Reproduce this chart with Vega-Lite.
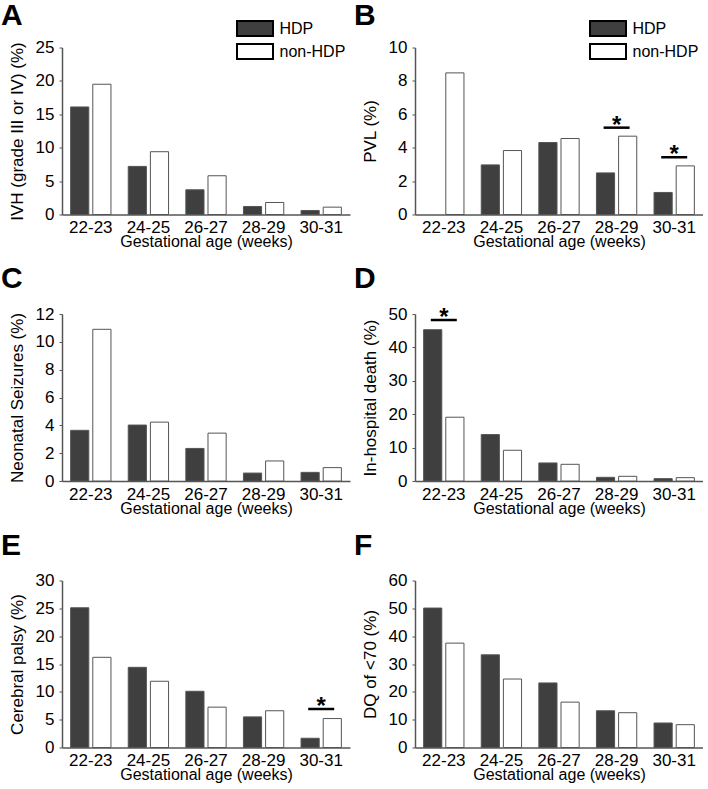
{
  "$schema": "https://vega.github.io/schema/vega-lite/v6.json",
  "padding": {"left": 1, "top": 0.5, "right": 0, "bottom": 0},
  "background": "#ffffff",
  "datasets": {
    "bars": [
      {"panel": "A", "ga": "22-23", "group": "HDP", "value": 16.1},
      {"panel": "A", "ga": "22-23", "group": "non-HDP", "value": 19.5},
      {"panel": "A", "ga": "24-25", "group": "HDP", "value": 7.2},
      {"panel": "A", "ga": "24-25", "group": "non-HDP", "value": 9.4},
      {"panel": "A", "ga": "26-27", "group": "HDP", "value": 3.7},
      {"panel": "A", "ga": "26-27", "group": "non-HDP", "value": 5.8},
      {"panel": "A", "ga": "28-29", "group": "HDP", "value": 1.2},
      {"panel": "A", "ga": "28-29", "group": "non-HDP", "value": 1.8},
      {"panel": "A", "ga": "30-31", "group": "HDP", "value": 0.6},
      {"panel": "A", "ga": "30-31", "group": "non-HDP", "value": 1.1},
      {"panel": "B", "ga": "22-23", "group": "non-HDP", "value": 8.48},
      {"panel": "B", "ga": "24-25", "group": "HDP", "value": 2.97},
      {"panel": "B", "ga": "24-25", "group": "non-HDP", "value": 3.83},
      {"panel": "B", "ga": "26-27", "group": "HDP", "value": 4.31},
      {"panel": "B", "ga": "26-27", "group": "non-HDP", "value": 4.55},
      {"panel": "B", "ga": "28-29", "group": "HDP", "value": 2.49},
      {"panel": "B", "ga": "28-29", "group": "non-HDP", "value": 4.69},
      {"panel": "B", "ga": "30-31", "group": "HDP", "value": 1.32},
      {"panel": "B", "ga": "30-31", "group": "non-HDP", "value": 2.91},
      {"panel": "C", "ga": "22-23", "group": "HDP", "value": 3.64},
      {"panel": "C", "ga": "22-23", "group": "non-HDP", "value": 10.9},
      {"panel": "C", "ga": "24-25", "group": "HDP", "value": 4.02},
      {"panel": "C", "ga": "24-25", "group": "non-HDP", "value": 4.23},
      {"panel": "C", "ga": "26-27", "group": "HDP", "value": 2.34},
      {"panel": "C", "ga": "26-27", "group": "non-HDP", "value": 3.44},
      {"panel": "C", "ga": "28-29", "group": "HDP", "value": 0.57},
      {"panel": "C", "ga": "28-29", "group": "non-HDP", "value": 1.44},
      {"panel": "C", "ga": "30-31", "group": "HDP", "value": 0.62},
      {"panel": "C", "ga": "30-31", "group": "non-HDP", "value": 0.96},
      {"panel": "D", "ga": "22-23", "group": "HDP", "value": 45.3},
      {"panel": "D", "ga": "22-23", "group": "non-HDP", "value": 19.1},
      {"panel": "D", "ga": "24-25", "group": "HDP", "value": 13.9},
      {"panel": "D", "ga": "24-25", "group": "non-HDP", "value": 9.2},
      {"panel": "D", "ga": "26-27", "group": "HDP", "value": 5.4},
      {"panel": "D", "ga": "26-27", "group": "non-HDP", "value": 5.0},
      {"panel": "D", "ga": "28-29", "group": "HDP", "value": 1.1},
      {"panel": "D", "ga": "28-29", "group": "non-HDP", "value": 1.4},
      {"panel": "D", "ga": "30-31", "group": "HDP", "value": 0.7},
      {"panel": "D", "ga": "30-31", "group": "non-HDP", "value": 1.0},
      {"panel": "E", "ga": "22-23", "group": "HDP", "value": 25.1},
      {"panel": "E", "ga": "22-23", "group": "non-HDP", "value": 16.2},
      {"panel": "E", "ga": "24-25", "group": "HDP", "value": 14.4},
      {"panel": "E", "ga": "24-25", "group": "non-HDP", "value": 11.9},
      {"panel": "E", "ga": "26-27", "group": "HDP", "value": 10.1},
      {"panel": "E", "ga": "26-27", "group": "non-HDP", "value": 7.25},
      {"panel": "E", "ga": "28-29", "group": "HDP", "value": 5.5},
      {"panel": "E", "ga": "28-29", "group": "non-HDP", "value": 6.6},
      {"panel": "E", "ga": "30-31", "group": "HDP", "value": 1.66},
      {"panel": "E", "ga": "30-31", "group": "non-HDP", "value": 5.2},
      {"panel": "F", "ga": "22-23", "group": "HDP", "value": 50.1},
      {"panel": "F", "ga": "22-23", "group": "non-HDP", "value": 37.5},
      {"panel": "F", "ga": "24-25", "group": "HDP", "value": 33.3},
      {"panel": "F", "ga": "24-25", "group": "non-HDP", "value": 24.6},
      {"panel": "F", "ga": "26-27", "group": "HDP", "value": 23.2},
      {"panel": "F", "ga": "26-27", "group": "non-HDP", "value": 16.3},
      {"panel": "F", "ga": "28-29", "group": "HDP", "value": 13.2},
      {"panel": "F", "ga": "28-29", "group": "non-HDP", "value": 12.5},
      {"panel": "F", "ga": "30-31", "group": "HDP", "value": 8.8},
      {"panel": "F", "ga": "30-31", "group": "non-HDP", "value": 8.2}
    ],
    "sig": [
      {"panel": "B", "ga": "28-29", "value": 5.2},
      {"panel": "B", "ga": "30-31", "value": 3.43},
      {"panel": "D", "ga": "22-23", "value": 48.2},
      {"panel": "E", "ga": "30-31", "value": 6.9}
    ]
  },
  "columns": 2,
  "spacing": {"column": 4, "row": 14.5},
  "resolve": {"scale": {"fill": "independent", "y": "independent"}, "legend": {"fill": "independent"}},
  "concat": [
    {
      "title": {"text": "A", "offset": -11},
      "width": 288, "height": 167,
      "data": {"name": "bars"},
      "transform": [{"filter": "datum.panel === 'A'"}],
      "mark": {"type": "bar", "stroke": "#555", "strokeWidth": 1},
      "encoding": {
        "x": {"field": "ga", "type": "nominal", "sort": ["22-23", "24-25", "26-27", "28-29", "30-31"], "scale": {"paddingInner": 0.3, "paddingOuter": 0.15}, "axis": {"title": "Gestational age (weeks)"}},
        "xOffset": {"field": "group", "type": "nominal", "sort": ["HDP", "non-HDP"], "scale": {"paddingInner": 0.18}},
        "y": {"field": "value", "type": "quantitative", "scale": {"domain": [0, 25], "nice": false}, "axis": {"title": "IVH (grade III or IV) (%)", "values": [0, 5, 10, 15, 20, 25]}},
        "fill": {"field": "group", "type": "nominal", "scale": {"domain": ["HDP", "non-HDP"], "range": ["#3f3f3f", "#ffffff"]},
          "legend": {"title": null, "orient": "none", "legendX": 184.5, "legendY": -27.5, "symbolType": "M-2.4,-1H2.4V1H-2.4Z", "symbolSize": 225, "symbolStrokeColor": "#000", "symbolStrokeWidth": 2, "symbolOpacity": 1, "labelFontSize": 16, "labelOffset": 16, "rowPadding": 0, "padding": 0}}
      }
    },
    {
      "title": {"text": "B", "offset": -11},
      "width": 288, "height": 167,
      "encoding": {
        "x": {"field": "ga", "type": "nominal", "sort": ["22-23", "24-25", "26-27", "28-29", "30-31"], "scale": {"paddingInner": 0.3, "paddingOuter": 0.15}, "axis": {"title": "Gestational age (weeks)"}},
        "y": {"field": "value", "type": "quantitative", "scale": {"domain": [0, 10], "nice": false}, "axis": {"title": "PVL (%)", "values": [0, 2, 4, 6, 8, 10]}}
      },
      "layer": [
        {
          "data": {"name": "bars"},
          "transform": [{"filter": "datum.panel === 'B'"}],
          "mark": {"type": "bar", "stroke": "#555", "strokeWidth": 1},
          "encoding": {
            "xOffset": {"field": "group", "type": "nominal", "sort": ["HDP", "non-HDP"], "scale": {"domain": ["HDP", "non-HDP"], "paddingInner": 0.18}},
            "fill": {"field": "group", "type": "nominal", "scale": {"domain": ["HDP", "non-HDP"], "range": ["#3f3f3f", "#ffffff"]},
              "legend": {"title": null, "orient": "none", "legendX": 184.5, "legendY": -27.5, "symbolType": "M-2.4,-1H2.4V1H-2.4Z", "symbolSize": 225, "symbolStrokeColor": "#000", "symbolStrokeWidth": 2, "symbolOpacity": 1, "labelFontSize": 16, "labelOffset": 16, "rowPadding": 0, "padding": 0}}
          }
        },
        {
          "data": {"name": "sig"},
          "transform": [{"filter": "datum.panel === 'B'"}],
          "mark": {"type": "tick", "color": "#000", "size": 26, "thickness": 2.5, "opacity": 1}
        },
        {
          "data": {"name": "sig"},
          "transform": [{"filter": "datum.panel === 'B'"}],
          "mark": {"type": "text", "text": "*", "fontSize": 24, "fontWeight": "bold", "baseline": "alphabetic", "dy": 5, "color": "#000"}
        }
      ]
    },
    {
      "title": {"text": "C", "offset": 11},
      "width": 288, "height": 167,
      "data": {"name": "bars"},
      "transform": [{"filter": "datum.panel === 'C'"}],
      "mark": {"type": "bar", "stroke": "#555", "strokeWidth": 1},
      "encoding": {
        "x": {"field": "ga", "type": "nominal", "sort": ["22-23", "24-25", "26-27", "28-29", "30-31"], "scale": {"paddingInner": 0.3, "paddingOuter": 0.15}, "axis": {"title": "Gestational age (weeks)"}},
        "xOffset": {"field": "group", "type": "nominal", "sort": ["HDP", "non-HDP"], "scale": {"paddingInner": 0.18}},
        "y": {"field": "value", "type": "quantitative", "scale": {"domain": [0, 12], "nice": false}, "axis": {"title": "Neonatal Seizures (%)", "values": [0, 2, 4, 6, 8, 10, 12]}},
        "fill": {"field": "group", "type": "nominal", "scale": {"domain": ["HDP", "non-HDP"], "range": ["#3f3f3f", "#ffffff"]}, "legend": null}
      }
    },
    {
      "title": {"text": "D", "offset": 11},
      "width": 288, "height": 167,
      "encoding": {
        "x": {"field": "ga", "type": "nominal", "sort": ["22-23", "24-25", "26-27", "28-29", "30-31"], "scale": {"paddingInner": 0.3, "paddingOuter": 0.15}, "axis": {"title": "Gestational age (weeks)"}},
        "y": {"field": "value", "type": "quantitative", "scale": {"domain": [0, 50], "nice": false}, "axis": {"title": "In-hospital death (%)", "values": [0, 10, 20, 30, 40, 50]}}
      },
      "layer": [
        {
          "data": {"name": "bars"},
          "transform": [{"filter": "datum.panel === 'D'"}],
          "mark": {"type": "bar", "stroke": "#555", "strokeWidth": 1},
          "encoding": {
            "xOffset": {"field": "group", "type": "nominal", "sort": ["HDP", "non-HDP"], "scale": {"paddingInner": 0.18}},
            "fill": {"field": "group", "type": "nominal", "scale": {"domain": ["HDP", "non-HDP"], "range": ["#3f3f3f", "#ffffff"]}, "legend": null}
          }
        },
        {
          "data": {"name": "sig"},
          "transform": [{"filter": "datum.panel === 'D'"}],
          "mark": {"type": "tick", "color": "#000", "size": 26, "thickness": 2.5, "opacity": 1}
        },
        {
          "data": {"name": "sig"},
          "transform": [{"filter": "datum.panel === 'D'"}],
          "mark": {"type": "text", "text": "*", "fontSize": 24, "fontWeight": "bold", "baseline": "alphabetic", "dy": 5, "color": "#000"}
        }
      ]
    },
    {
      "title": {"text": "E", "offset": 11},
      "width": 288, "height": 167,
      "encoding": {
        "x": {"field": "ga", "type": "nominal", "sort": ["22-23", "24-25", "26-27", "28-29", "30-31"], "scale": {"paddingInner": 0.3, "paddingOuter": 0.15}, "axis": {"title": "Gestational age (weeks)"}},
        "y": {"field": "value", "type": "quantitative", "scale": {"domain": [0, 30], "nice": false}, "axis": {"title": "Cerebral palsy (%)", "values": [0, 5, 10, 15, 20, 25, 30]}}
      },
      "layer": [
        {
          "data": {"name": "bars"},
          "transform": [{"filter": "datum.panel === 'E'"}],
          "mark": {"type": "bar", "stroke": "#555", "strokeWidth": 1},
          "encoding": {
            "xOffset": {"field": "group", "type": "nominal", "sort": ["HDP", "non-HDP"], "scale": {"paddingInner": 0.18}},
            "fill": {"field": "group", "type": "nominal", "scale": {"domain": ["HDP", "non-HDP"], "range": ["#3f3f3f", "#ffffff"]}, "legend": null}
          }
        },
        {
          "data": {"name": "sig"},
          "transform": [{"filter": "datum.panel === 'E'"}],
          "mark": {"type": "tick", "color": "#000", "size": 26, "thickness": 2.5, "opacity": 1}
        },
        {
          "data": {"name": "sig"},
          "transform": [{"filter": "datum.panel === 'E'"}],
          "mark": {"type": "text", "text": "*", "fontSize": 24, "fontWeight": "bold", "baseline": "alphabetic", "dy": 5, "color": "#000"}
        }
      ]
    },
    {
      "title": {"text": "F", "offset": 11},
      "width": 288, "height": 167,
      "data": {"name": "bars"},
      "transform": [{"filter": "datum.panel === 'F'"}],
      "mark": {"type": "bar", "stroke": "#555", "strokeWidth": 1},
      "encoding": {
        "x": {"field": "ga", "type": "nominal", "sort": ["22-23", "24-25", "26-27", "28-29", "30-31"], "scale": {"paddingInner": 0.3, "paddingOuter": 0.15}, "axis": {"title": "Gestational age (weeks)"}},
        "xOffset": {"field": "group", "type": "nominal", "sort": ["HDP", "non-HDP"], "scale": {"paddingInner": 0.18}},
        "y": {"field": "value", "type": "quantitative", "scale": {"domain": [0, 60], "nice": false}, "axis": {"title": "DQ of <70 (%)", "values": [0, 10, 20, 30, 40, 50, 60]}},
        "fill": {"field": "group", "type": "nominal", "scale": {"domain": ["HDP", "non-HDP"], "range": ["#3f3f3f", "#ffffff"]}, "legend": null}
      }
    }
  ],
  "config": {
    "font": "Liberation Sans",
    "view": {"stroke": null},
    "axis": {"grid": false, "domainColor": "#555", "domainWidth": 1.5, "tickColor": "#555", "labelColor": "#000", "titleColor": "#000", "labelFontSize": 17, "titleFontSize": 16, "titleFontWeight": "normal", "labelFont": "Liberation Sans", "titleFont": "Liberation Sans"},
    "axisX": {"ticks": false, "labelPadding": 5, "titlePadding": -2, "labelAngle": 0},
    "axisY": {"tickSize": 3, "labelPadding": 5, "titlePadding": 9, "titleFontSize": 17},
    "legend": {"labelColor": "#000", "labelFont": "Liberation Sans"},
    "title": {"anchor": "start", "fontSize": 30, "fontWeight": "bold", "baseline": "alphabetic", "dx": -7, "color": "#000", "font": "Liberation Sans"}
  }
}
